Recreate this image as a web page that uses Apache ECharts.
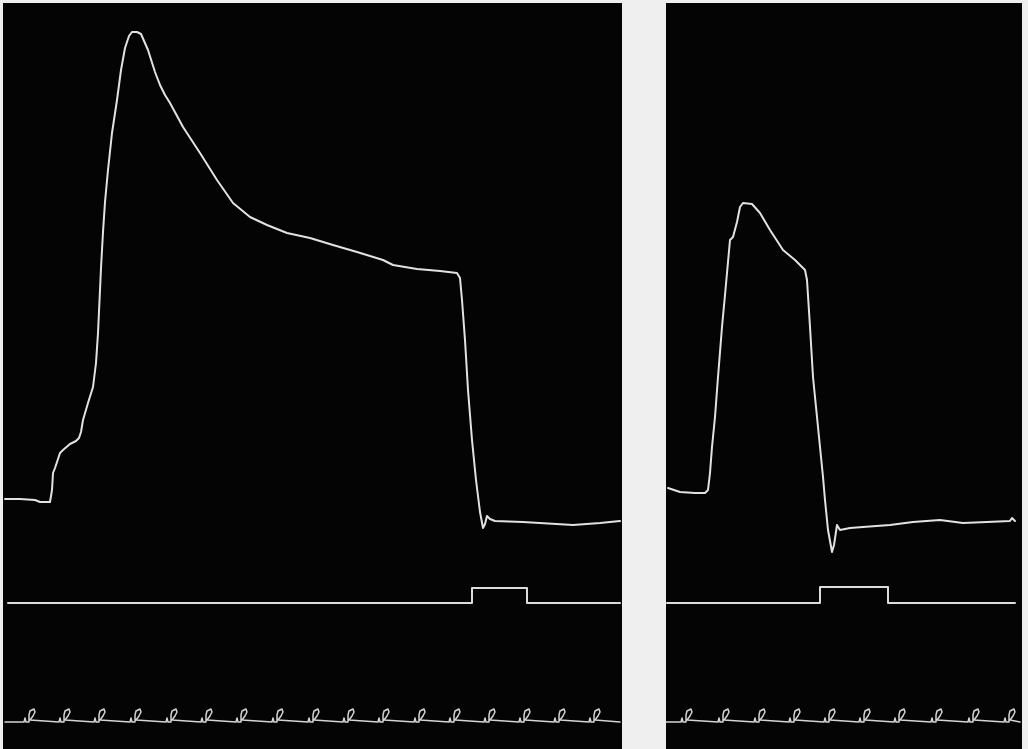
<!DOCTYPE html>
<html>
<head>
<meta charset="utf-8">
<script src="https://cdn.jsdelivr.net/npm/echarts@6/dist/echarts.min.js"></script>
<style>
html,body{margin:0;padding:0;background:#efefef;}
#c{width:1028px;height:749px;}
</style>
</head>
<body>
<div id="c"></div>
<script>
var leftContraction = [[5,499],[20,499],[35,500],[40,502],[50,502],[52,490],[53,473],[55,468],[60,453],[63,450],[70,444],[76,441],[79,438],[80,440],[81,432],[83,420],[88,403],[93,387],[96,363],[98,333],[100,290],[101,268],[103,232],[105,202],[108,170],[112,133],[117,100],[121,70],[125,48],[129,36],[132,32],[137,32],[141,34],[148,50],[155,72],[160,85],[165,95],[170,103],[183,127],[200,153],[217,180],[233,203],[250,217],[267,225],[287,233],[310,238],[333,245],[357,252],[383,260],[393,265],[417,269],[440,271],[457,273],[460,278],[462,300],[465,340],[468,390],[472,440],[476,480],[480,512],[483,528],[485,524],[487,516],[490,519],[495,521],[523,522],[573,525],[600,523],[620,521]];
var rightContraction = [[668,488],[680,492],[695,493],[705,493],[708,490],[710,473],[712,447],[715,417],[718,377],[722,327],[725,295],[728,262],[730,240],[733,237],[737,222],[740,207],[743,203],[752,204],[760,213],[770,230],[783,250],[795,260],[805,270],[807,280],[810,327],[813,377],[818,427],[823,477],[825,500],[828,530],[832,552],[834,545],[837,525],[840,530],[850,528],[863,527],[890,525],[913,522],[940,520],[963,523],[987,522],[1010,521],[1012,518],[1015,521]];
var leftSignal = [[8,603],[472,603],[472,588],[527,588],[527,603],[620,603]];
var rightSignal = [[667,603],[820,603],[820,587],[888,587],[888,603],[1015,603]];
var leftTicks = [29,64,99,135,171,206,241,277,313,348,383,419,454,489,524,559,594];
var rightTicks = [686,723,759,794,829,864,899,936,973,1009];
var timeBase = 722;
var leftTimeRange = [5,620];
var rightTimeRange = [666,1020];
// shape of one time-marker stroke, relative to tick position
var tickShape = [[-5,722],[-4,718],[-3,722],[0,722],[0,715],[1,711],[3,709],[5,709],[6,712],[4,716],[1,720],[1,722]];

function timeTrace(ticks, range){
  var pts = [[range[0], timeBase]];
  ticks.forEach(function(t){
    tickShape.forEach(function(p){ pts.push([t+p[0], p[1]]); });
  });
  pts.push([range[1], timeBase]);
  return pts;
}

var chart = echarts.init(document.getElementById('c'), null, {renderer:'canvas'});
function xa(i,min,max){return {type:'value',gridIndex:i,min:min,max:max,show:false};}
function ya(i){return {type:'value',gridIndex:i,min:3,max:749,inverse:true,show:false};}
function line(i,data,w,c){
  return {type:'line',xAxisIndex:i,yAxisIndex:i,data:data,symbol:'none',silent:true,
    lineStyle:{color:c,width:w,cap:'round',join:'round'},animation:false};
}
chart.setOption({
  backgroundColor:'#efefef',
  animation:false,
  grid:[
    {left:3,top:3,width:619,height:746,show:true,backgroundColor:'#040404',borderWidth:0},
    {left:666,top:3,width:356,height:746,show:true,backgroundColor:'#040404',borderWidth:0}
  ],
  xAxis:[xa(0,3,622),xa(1,666,1022)],
  yAxis:[ya(0),ya(1)],
  series:[
    line(0,leftContraction,2,'#e2e2e2'),
    line(1,rightContraction,2,'#e2e2e2'),
    line(0,leftSignal,2,'#dcdcdc'),
    line(1,rightSignal,2,'#dcdcdc'),
    line(0,timeTrace(leftTicks,leftTimeRange),1.5,'#d4d4d4'),
    line(1,timeTrace(rightTicks,rightTimeRange),1.5,'#d4d4d4')
  ]
});
</script>
</body>
</html>
